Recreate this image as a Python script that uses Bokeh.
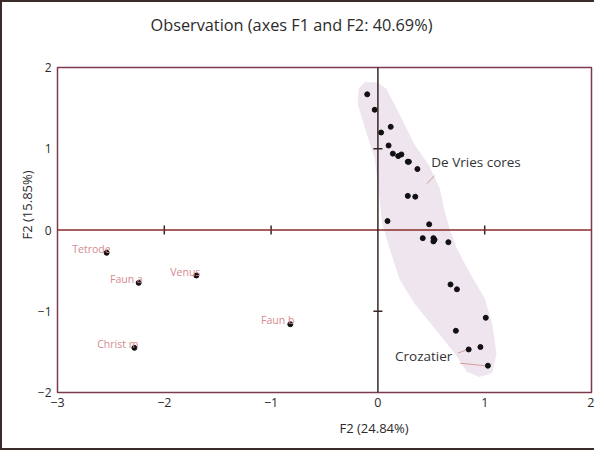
from bokeh.plotting import figure
from bokeh.models import Span, ColumnDataSource, FixedTicker, Title
from bokeh.core.properties import value
from bokeh.embed import file_html
from bokeh.resources import INLINE

# ---- data ----
devries_x = [-0.10, -0.03, 0.12, 0.03, 0.10, 0.14, 0.19, 0.22, 0.28, 0.29, 0.37,
             0.28, 0.35, 0.09, 0.48, 0.42, 0.52, 0.53, 0.52, 0.66, 0.68, 0.74,
             1.01, 0.73, 0.85, 0.96, 1.03]
devries_y = [1.67, 1.48, 1.27, 1.20, 1.04, 0.94, 0.91, 0.93, 0.84, 0.84, 0.75,
             0.42, 0.41, 0.11, 0.07, -0.10, -0.10, -0.12, -0.14, -0.15, -0.67, -0.73,
             -1.08, -1.24, -1.47, -1.44, -1.67]

other_names = ["Tetrode", "Faun a", "Venus", "Faun b", "Christ m"]
other_x = [-2.54, -2.24, -1.70, -0.82, -2.28]
other_y = [-0.28, -0.65, -0.56, -1.16, -1.45]

hull_x = [-0.125, -0.01, 0.08, 0.20, 0.34, 0.48, 0.58, 0.62, 0.67, 0.74, 0.86, 1.00,
          1.07, 1.11, 1.07, 0.95, 0.83, 0.72, 0.53, 0.34, 0.20, 0.11, 0.04, 0.01,
          -0.03, -0.12, -0.19, -0.18]
hull_y = [1.82, 1.82, 1.74, 1.43, 1.06, 0.79, 0.51, 0.26, 0.02, -0.23, -0.53, -0.84,
          -1.15, -1.52, -1.76, -1.81, -1.74, -1.52, -1.21, -0.90, -0.60, -0.23, 0.08, 0.45,
          0.88, 1.25, 1.55, 1.74]

group_labels = ["De Vries cores", "Crozatier"]
group_label_x = [0.50, 0.16]
group_label_y = [0.84, -1.55]
leader_x0 = [0.53, 0.75, 0.77]
leader_y0 = [0.67, -1.515, -1.64]
leader_x1 = [0.46, 0.84, 1.00]
leader_y1 = [0.57, -1.47, -1.67]

x_ticks = [-3, -2, -1, 0, 1, 2]
y_ticks = [-2, -1, 0, 1, 2]
x_inner_ticks = [-2, -1, 1]
y_inner_ticks = [-1, 1]

title_text = "Observation (axes F1 and F2: 40.69%)"
x_label = "F2 (24.84%)"
y_label = "F2 (15.85%)"

FONT = "Open Sans"
DARK = "#2b2b2b"

p = figure(width=594, height=450, x_range=(-3, 2), y_range=(-2, 2),
           output_backend="svg", toolbar_location=None, title=None,
           min_border_left=55, min_border_right=5, min_border_top=65, min_border_bottom=60)
p.styles = {"border-left": "2px solid #3a2a2a", "border-top": "2px solid #3a2a2a",
            "border-bottom": "2px solid #3a2a2a"}

def make_title(text, size, align, offset, valign, standoff):
    return Title(text=text, align=align, offset=offset, vertical_align=valign,
                 standoff=standoff, text_font=FONT, text_font_size=size,
                 text_font_style="normal", text_color=DARK)

# spacer between frame and main title
p.add_layout(Title(text=" ", text_font_size="1px", standoff=16), "above")
p.add_layout(make_title(title_text, "16.3px", "left", 93, "top", 22), "above")
p.add_layout(make_title(x_label, "13px", "left", 282, "top", 18), "below")
p.add_layout(make_title(y_label, "13px", "left", 153, "bottom", -2), "left")

p.xgrid.visible = False
p.ygrid.visible = False
p.outline_line_color = "#7c3a4c"
p.outline_line_width = 1.5

def minus(v):
    return ("\u2212" + str(abs(v))) if v < 0 else str(v)

for ax, ticks in ((p.xaxis[0], x_ticks), (p.yaxis[0], y_ticks)):
    ax.ticker = FixedTicker(ticks=ticks)
    ax.major_label_overrides = {t: minus(t) for t in ticks}
    ax.axis_line_color = None
    ax.major_tick_line_color = None
    ax.minor_tick_line_color = None
    ax.major_tick_in = 0
    ax.major_tick_out = 0
    ax.major_label_text_font = FONT
    ax.major_label_text_color = DARK
p.xaxis.major_label_text_font_size = "12.5px"
p.yaxis.major_label_text_font_size = "12px"
p.xaxis.major_label_standoff = 5
p.yaxis.major_label_standoff = 6

# shaded group
p.patch(hull_x, hull_y, fill_color="#eee5ef", line_color=None)

# zero lines
p.add_layout(Span(location=0, dimension="width", line_color="#8b2a2a", line_width=1.5))
p.add_layout(Span(location=0, dimension="height", line_color="#3a2626", line_width=1.5))
p.scatter(x_inner_ticks, [0] * len(x_inner_ticks), marker="dash", angle=1.5708,
          size=9, line_color="#3a2626", line_width=1.5)
p.scatter([0] * len(y_inner_ticks), y_inner_ticks, marker="dash",
          size=9, line_color="#3a2626", line_width=1.5)

# leader lines
p.segment(leader_x0, leader_y0, leader_x1, leader_y1, line_color="#d89a9a", line_width=1)

# points
p.scatter(devries_x, devries_y, size=5, color="#111111")
src = ColumnDataSource(dict(x=other_x, y=other_y, name=other_names))
p.scatter("x", "y", source=src, size=5, color="#111111")
p.text("x", "y", text="name", source=src, text_align="right", text_baseline="alphabetic",
       x_offset=4, y_offset=-4, text_font=value(FONT), text_font_size="10.5px",
       text_color="#d48a8f")

gsrc = ColumnDataSource(dict(x=group_label_x, y=group_label_y, t=group_labels))
p.text("x", "y", text="t", source=gsrc, text_align="left", text_baseline="middle",
       text_font=value(FONT), text_font_size="13.5px", text_color="#333333")

open("out.html", "w").write(file_html(p, INLINE))
